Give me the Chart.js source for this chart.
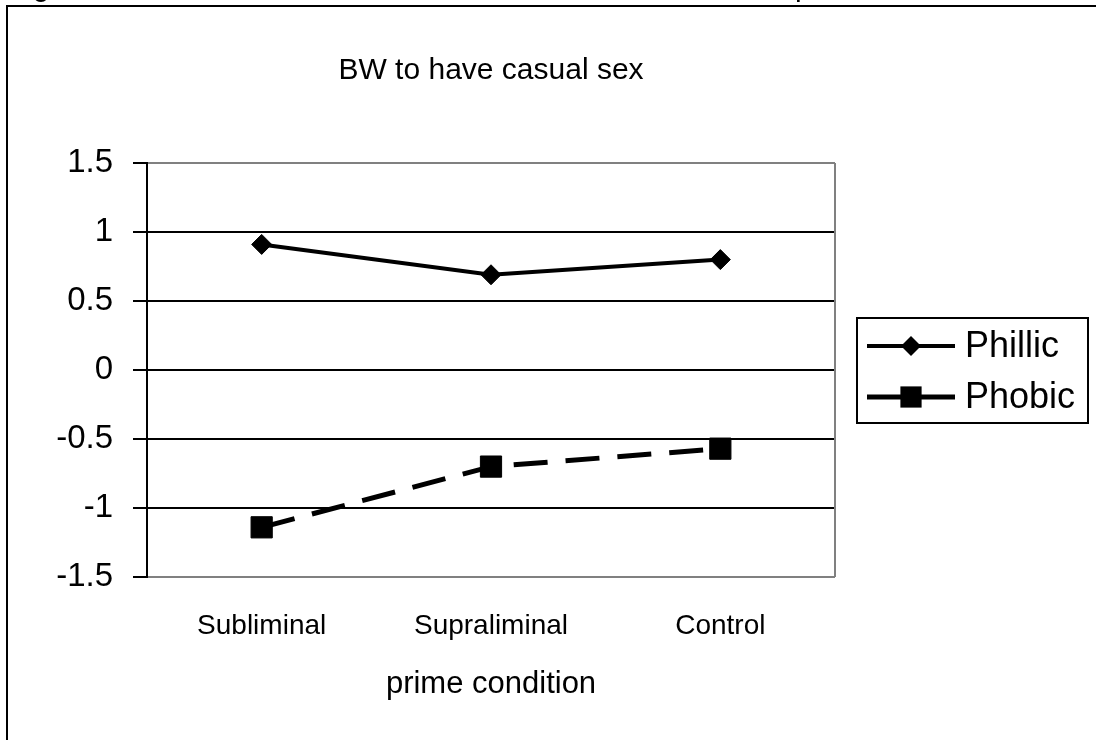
<!DOCTYPE html>
<html><head><meta charset="utf-8">
<script src="https://cdn.jsdelivr.net/npm/chart.js@4.4.0/dist/chart.umd.min.js"></script>
<style>html,body{margin:0;padding:0;background:#fff;overflow:hidden}#wrap{width:1096px;height:740px;position:relative}</style>
</head><body><div id="wrap"><canvas id="c" width="1096" height="740"></canvas></div>
<script>
const categories = ['Subliminal', 'Supraliminal', 'Control'];
const phillic = [0.91, 0.69, 0.80];
const phobic = [-1.14, -0.70, -0.57];
const yTicks = [1.5, 1, 0.5, 0, -0.5, -1, -1.5];
const seriesNames = ['Phillic', 'Phobic'];
const titleText = 'BW to have casual sex';
const xTitle = 'prime condition';

const FONT = "'Liberation Sans', Arial, sans-serif";

const framePlugin = {
  id: 'frame',
  beforeDraw(chart) {
    const ctx = chart.ctx;
    ctx.save();
    ctx.fillStyle = '#fff';
    ctx.fillRect(0, 0, chart.width, chart.height);
    ctx.strokeStyle = '#000';
    ctx.lineWidth = 2;
    ctx.strokeRect(7, 6, 3000, 3000);
    ctx.fillStyle = '#000';
    ctx.font = '30px ' + FONT;
    ctx.textBaseline = 'alphabetic';
    ctx.fillText('g', 33, -4);
    ctx.fillText('p', 795, -4);
    ctx.restore();
  },
  afterDatasetsDraw(chart) {
    const a = chart.chartArea;
    const ctx = chart.ctx;
    ctx.save();
    ctx.strokeStyle = '#808080';
    ctx.lineWidth = 2;
    ctx.beginPath();
    ctx.moveTo(a.right, a.top);
    ctx.lineTo(a.right, a.bottom);
    ctx.stroke();
    ctx.restore();
  },
  afterDraw(chart) {
    const ctx = chart.ctx;
    ctx.save();
    const bx = 857, by = 318, bw = 231, bh = 105;
    ctx.strokeStyle = '#000';
    ctx.lineWidth = 2;
    ctx.strokeRect(bx, by, bw, bh);
    const rows = [346, 397];
    chart.data.datasets.forEach((ds, i) => {
      const y = rows[i];
      ctx.strokeStyle = ds.borderColor;
      ctx.lineWidth = ds.borderWidth;
      ctx.setLineDash([]);
      ctx.beginPath();
      ctx.moveTo(867, y);
      ctx.lineTo(955, y);
      ctx.stroke();
      ctx.fillStyle = '#000';
      ctx.beginPath();
      if (ds.pointStyle === 'rect') {
        const s = ds.pointRadius * Math.SQRT1_2;
        ctx.fillRect(911 - s, y - s, 2 * s, 2 * s);
      } else {
        const r = ds.pointRadius;
        ctx.moveTo(911 - r, y); ctx.lineTo(911, y - r); ctx.lineTo(911 + r, y); ctx.lineTo(911, y + r); ctx.closePath(); ctx.fill();
      }
      ctx.fillStyle = '#000';
      ctx.font = '36px ' + FONT;
      ctx.textBaseline = 'middle';
      ctx.textAlign = 'left';
      ctx.fillText(ds.label, 965, y + 1);
    });
    ctx.restore();
  }
};

new Chart(document.getElementById('c'), {
  type: 'line',
  data: {
    labels: categories,
    datasets: [
      {
        label: seriesNames[0], data: phillic,
        borderColor: '#000', backgroundColor: '#000', borderWidth: 4,
        pointStyle: 'rectRot', pointRadius: 10, pointBackgroundColor: '#000', pointBorderColor: '#000', pointBorderWidth: 1,
        tension: 0, fill: false
      },
      {
        label: seriesNames[1], data: phobic,
        borderColor: '#000', backgroundColor: '#000', borderWidth: 5, borderDash: [34, 18],
        pointStyle: 'rect', pointRadius: 15, pointBackgroundColor: '#000', pointBorderColor: '#000', pointBorderWidth: 1,
        tension: 0, fill: false
      }
    ]
  },
  options: {
    responsive: false,
    animation: false,
    devicePixelRatio: 1,
    layout: { padding: { left: 0, right: 261, top: 0, bottom: 0 } },
    plugins: {
      legend: { display: false },
      tooltip: { enabled: false },
      title: {
        display: true, text: titleText, fullSize: false, color: '#000',
        font: { family: FONT, size: 30, weight: 'normal', lineHeight: 1.2 },
        padding: { top: 53, bottom: 74 }
      }
    },
    scales: {
      x: {
        type: 'category', offset: true,
        grid: { display: false, drawTicks: false },
        border: { display: false },
        ticks: { color: '#000', font: { family: FONT, size: 28 }, padding: 32 },
        title: { display: true, text: xTitle, color: '#000', font: { family: FONT, size: 31 }, padding: { top: 10, bottom: 37 } },
        afterFit(scale) { scale.height = 163; }
      },
      y: {
        min: -1.5, max: 1.5,
        afterBuildTicks(scale) { scale.ticks = yTicks.map(v => ({ value: v })); },
        ticks: { color: '#000', font: { family: FONT, size: 33 }, padding: 20, callback: v => String(v) },
        grid: {
          color: c => (c.tick && Math.abs(c.tick.value) === 1.5) ? '#808080' : '#000',
          tickColor: '#000', lineWidth: 2, tickLength: 14, drawTicks: true
        },
        border: { display: true, color: '#000', width: 2 },
        afterFit(scale) { scale.width = 147; }
      }
    }
  },
  plugins: [framePlugin]
});
</script></body></html>
